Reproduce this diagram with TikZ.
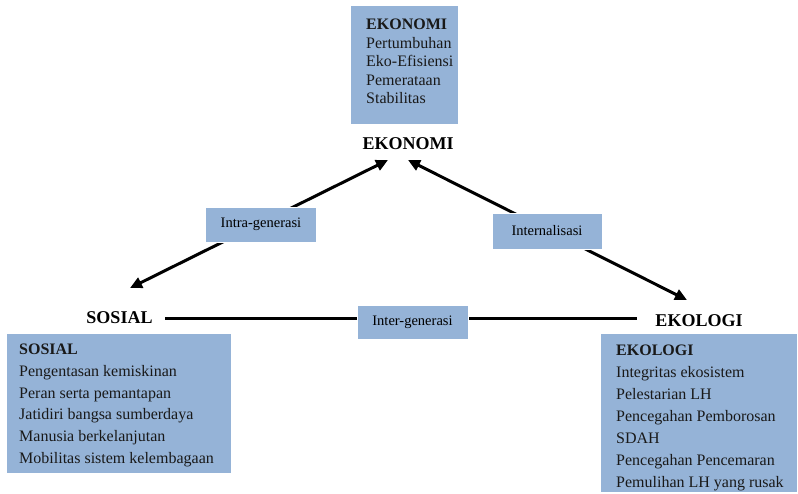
\documentclass[tikz,border=0pt]{standalone}
\usepackage{fontspec}
\setmainfont{Liberation Serif}
\usetikzlibrary{arrows.meta}
\definecolor{boxblue}{HTML}{95B3D7}
\begin{document}
\begin{tikzpicture}[x=1pt,y=-1pt,
  panel/.style={fill=boxblue, draw=none, inner sep=0pt, anchor=north west},
  paneltext/.style={inner sep=0pt, anchor=north west, align=left, text=black!90},
  tag/.style={fill=boxblue, draw=white, line width=0.8pt, inner sep=0pt, font=\fontsize{14.5}{16}\selectfont},
  label/.style={inner sep=0pt, anchor=base, font=\fontsize{18}{20}\selectfont\bfseries},
  link/.style={line width=3pt},
  biarrow/.style={link, {Triangle[length=12pt,width=11pt]}-{Triangle[length=12pt,width=11pt]}}
]
\useasboundingbox (0,0) rectangle (798,493);

% panels
\node[panel, minimum width=107pt, minimum height=118pt] (ekobox) at (351,6) {};
\node[panel, minimum width=224pt, minimum height=139pt] (sosbox) at (7,334) {};
\node[panel, minimum width=196pt, minimum height=158pt] (ekolbox) at (601,334) {};

\node[paneltext, font=\fontsize{16}{18.5}\selectfont] (ekotext) at (366,19)
  {\textbf{EKONOMI}\\Pertumbuhan\\Eko-Efisiensi\\Pemerataan\\Stabilitas};
\node[paneltext, font=\fontsize{16}{21.7}\selectfont] (sostext) at (19,344)
  {\textbf{SOSIAL}\\Pengentasan kemiskinan\\Peran serta pemantapan\\Jatidiri bangsa sumberdaya\\Manusia berkelanjutan\\Mobilitas sistem kelembagaan};
\node[paneltext, font=\fontsize{16}{22.1}\selectfont] (ekoltext) at (616,344.5)
  {\textbf{EKOLOGI}\\Integritas ekosistem\\Pelestarian LH\\Pencegahan Pemborosan\\SDAH\\Pencegahan Pencemaran\\Pemulihan LH yang rusak};

% labels
\node[label] (ekonomi) at (408,149) {EKONOMI};
\node[label] (sosial) at (119.5,323) {SOSIAL};
\node[label] (ekologi) at (699,326) {EKOLOGI};

% connector ends
\coordinate (ekoL) at (388,160);
\coordinate (ekoR) at (408,160);
\coordinate (sosA) at (130,288);
\coordinate (ekolA) at (687,300);
\coordinate (sosH) at (165,318.5);
\coordinate (ekolH) at (637,318.5);

\draw[biarrow] (sosA) -- (ekoL);
\draw[biarrow] (ekoR) -- (ekolA);
\draw[link] (sosH) -- (ekolH);

% tags
\node[tag, minimum width=111pt, minimum height=35pt] (intra) at (261,224.5) {Intra-generasi};
\node[tag, minimum width=110pt, minimum height=36pt] (intern) at (547,231) {Internalisasi};
\node[tag, minimum width=111pt, minimum height=34pt] (inter) at (412.5,322) {Inter-generasi};
\end{tikzpicture}
\end{document}
